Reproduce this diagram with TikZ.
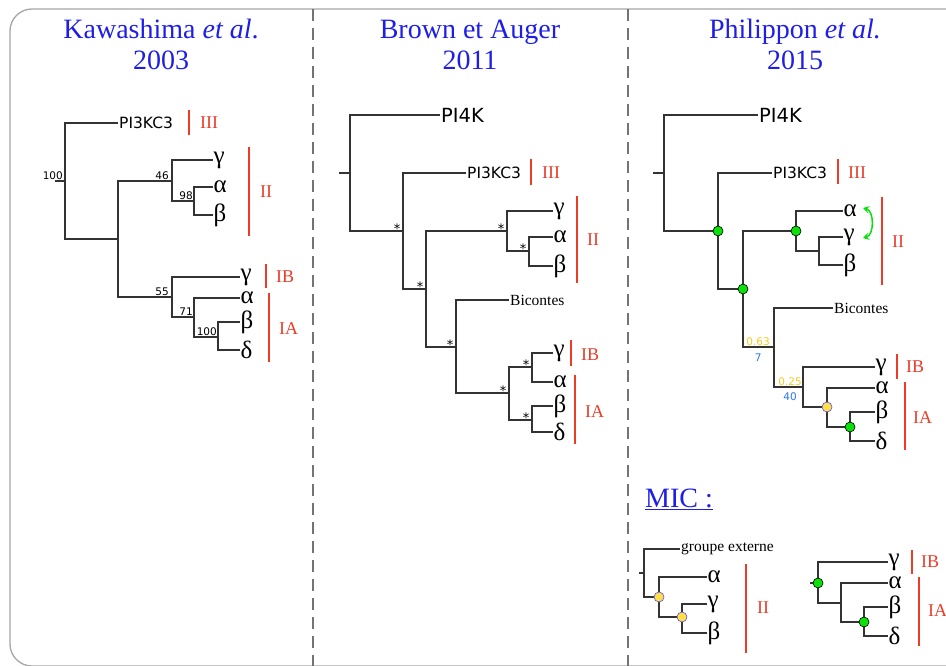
\documentclass[tikz,border=0pt]{standalone}
\usepackage{fontspec}
\setmainfont{Liberation Serif}
\setsansfont{DejaVu Sans}
\usetikzlibrary{arrows.meta}

\definecolor{titleblue}{RGB}{30,30,230}
\definecolor{cladered}{RGB}{235,60,40}
\definecolor{nodegreen}{RGB}{10,225,10}
\definecolor{nodeyellow}{RGB}{255,222,70}
\definecolor{ppyellow}{RGB}{240,205,30}
\definecolor{bsblue}{RGB}{40,120,240}
\newcommand\fs[1]{\fontsize{#1}{#1}\selectfont}

\begin{document}
\begin{tikzpicture}[x=1pt,y=-1pt,
  branch/.style={draw=black!80,line width=1.2pt},
  leaf/.style={anchor=west,inner sep=0.5pt,font=\fs{25}},
  gene/.style={anchor=west,inner sep=1pt,font=\sffamily\fs{15.5}},
  biggene/.style={anchor=west,inner sep=1pt,font=\sffamily\fs{19.5}},
  outgrp/.style={anchor=west,inner sep=1pt,font=\fs{15.5}},
  cladebar/.style={draw=cladered,line width=1.3pt},
  grp/.style={anchor=west,inner sep=0pt,text=cladered,font=\fs{18}},
  boot/.style={anchor=south east,inner sep=1pt,font=\sffamily\fs{10.5}},
  starmark/.style={anchor=south east,inner sep=0.5pt,font=\sffamily\fs{13}},
  reftitle/.style={anchor=base,inner sep=0pt,text=titleblue,font=\fs{28}},
  good/.style={circle,draw=black,line width=0.6pt,fill=nodegreen,inner sep=0pt,minimum size=10pt},
  weak/.style={circle,draw=blue!70,line width=0.6pt,fill=nodeyellow,inner sep=0pt,minimum size=10pt},
  pp/.style={anchor=south east,inner sep=1pt,text=ppyellow,font=\sffamily\fs{10.5}},
  bs/.style={anchor=north,inner sep=1pt,text=bsblue,font=\sffamily\fs{10.5}}]
  \useasboundingbox (0,0) rectangle (946,666);

  % frame and separators
  \draw[draw=black!35,line width=1.3pt,rounded corners=22pt] (10,9) rectangle (1000,666);
  \draw[draw=black!55,line width=1.3pt,dash pattern=on 12pt off 7pt] (313,9) -- (313,666);
  \draw[draw=black!55,line width=1.3pt,dash pattern=on 12pt off 7pt] (628,9) -- (628,666);

  % titles
  \node[reftitle] (t1a) at (161,39) {Kawashima \textit{et al}.};
  \node[reftitle] (t1b) at (161,70) {2003};
  \node[reftitle] (t2a) at (470,39) {Brown et Auger};
  \node[reftitle] (t2b) at (470,70) {2011};
  \node[reftitle] (t3a) at (795,39) {Philippon \textit{et al.}};
  \node[reftitle] (t3b) at (795,70) {2015};

  % ---- Kawashima et al. 2003
  \coordinate (k-r) at (55,181);
  \coordinate (k0) at (65,181);
  \coordinate (k1) at (118,239);
  \coordinate (k2) at (172,181);
  \coordinate (k3) at (194,201);
  \coordinate (k4) at (172,297);
  \coordinate (k5) at (194,317);
  \coordinate (k6) at (218,337);
  \node[gene] (k-pi3) at (118,123) {PI3KC3};
  \node[leaf] (k-IIg) at (213,160) {γ};
  \node[leaf] (k-IIa) at (213,187) {α};
  \node[leaf] (k-IIb) at (213,215) {β};
  \node[leaf] (k-IBg) at (240,277) {γ};
  \node[leaf] (k-IAa) at (240,298) {α};
  \node[leaf] (k-IAb) at (240,322) {β};
  \node[leaf] (k-IAd) at (240,350) {δ};
  \draw[branch] (k-r) -- (k0) (k0) |- (k-pi3.west) (k0) |- (k1)
    (k1) |- (k2) (k2) |- (k-IIg.west) (k2) |- (k3)
    (k3) |- (k-IIa.west) (k3) |- (k-IIb.west)
    (k1) |- (k4) (k4) |- (k-IBg.west) (k4) |- (k5)
    (k5) |- (k-IAa.west) (k5) |- (k6)
    (k6) |- (k-IAb.west) (k6) |- (k-IAd.west);
  \node[boot,xshift=-1pt] (k-b0) at (k0) {100};
  \node[boot,xshift=-2pt] (k-b2) at (k2) {46};
  \node[boot] (k-b3) at (k3) {98};
  \node[boot,xshift=-2pt] (k-b4) at (k4) {55};
  \node[boot] (k-b5) at (k5) {71};
  \node[boot] (k-b6) at (k6) {100};
  \draw[cladebar] (189,110) -- (189,135);
  \draw[cladebar] (249,147) -- (249,236);
  \draw[cladebar] (266,264) -- (266,288);
  \draw[cladebar] (269,293) -- (269,362);
  \node[grp] (k-III) at (200,123) {III};
  \node[grp] (k-II) at (260,192) {II};
  \node[grp] (k-IB) at (276,277) {IB};
  \node[grp] (k-IA) at (279,329) {IA};

  % ---- Brown et Auger 2011
  \coordinate (b-r) at (339,173);
  \coordinate (b0) at (350,173);
  \coordinate (b1) at (403,231);
  \coordinate (b2) at (426,289);
  \coordinate (b3) at (507,231);
  \coordinate (b4) at (529,251);
  \coordinate (b5) at (456,347);
  \coordinate (b6) at (509,393);
  \coordinate (b7) at (532,367);
  \coordinate (b8) at (532,420);
  \node[biggene] (b-pi4) at (440,115) {PI4K};
  \node[gene] (b-pi3) at (466,173) {PI3KC3};
  \node[leaf] (b-IIg) at (553,211) {γ};
  \node[leaf] (b-IIa) at (553,237) {α};
  \node[leaf] (b-IIb) at (553,266) {β};
  \node[outgrp] (b-bic) at (509,300) {Bicontes};
  \node[leaf] (b-IBg) at (553,353) {γ};
  \node[leaf] (b-IAa) at (553,382) {α};
  \node[leaf] (b-IAb) at (553,406) {β};
  \node[leaf] (b-IAd) at (553,432) {δ};
  \draw[branch] (b-r) -- (b0) (b0) |- (b-pi4.west) (b0) |- (b1)
    (b1) |- (b-pi3.west) (b1) |- (b2)
    (b2) |- (b3) (b3) |- (b-IIg.west) (b3) |- (b4)
    (b4) |- (b-IIa.west) (b4) |- (b-IIb.west)
    (b2) |- (b5) (b5) |- (b-bic.west) (b5) |- (b6)
    (b6) |- (b7) (b7) |- (b-IBg.west) (b7) |- (b-IAa.west)
    (b6) |- (b8) (b8) |- (b-IAb.west) (b8) |- (b-IAd.west);
  \foreach \n in {b1,b2,b3,b4,b5,b6,b7,b8}
    \node[starmark,xshift=-2pt,yshift=-3pt] (\n-star) at (\n) {*};
  \draw[cladebar] (531,159) -- (531,185);
  \draw[cladebar] (577,196) -- (577,283);
  \draw[cladebar] (571,340) -- (571,366);
  \draw[cladebar] (575,375) -- (575,444);
  \node[grp] (b-III) at (542,173) {III};
  \node[grp] (b-II) at (587,240) {II};
  \node[grp] (b-IB) at (581,355) {IB};
  \node[grp] (b-IA) at (585,412) {IA};

  % ---- Philippon et al. 2015
  \coordinate (p-r) at (653,173);
  \coordinate (p0) at (664,173);
  \coordinate (p1) at (718,231);
  \coordinate (p2) at (743,289);
  \coordinate (p3) at (796,231);
  \coordinate (p4) at (819,251);
  \coordinate (p5) at (774,347);
  \coordinate (p6) at (803,387);
  \coordinate (p7) at (827,407);
  \coordinate (p8) at (850,427);
  \node[biggene] (p-pi4) at (758,115) {PI4K};
  \node[gene] (p-pi3) at (772,173) {PI3KC3};
  \node[leaf] (p-IIa) at (843,211) {α};
  \node[leaf] (p-IIg) at (843,237) {γ};
  \node[leaf] (p-IIb) at (843,265) {β};
  \node[outgrp] (p-bic) at (833,308) {Bicontes};
  \node[leaf] (p-IBg) at (875,367) {γ};
  \node[leaf] (p-IAa) at (875,388) {α};
  \node[leaf] (p-IAb) at (875,412) {β};
  \node[leaf] (p-IAd) at (875,441) {δ};
  \draw[branch] (p-r) -- (p0) (p0) |- (p-pi4.west) (p0) |- (p1)
    (p1) |- (p-pi3.west) (p1) |- (p2)
    (p2) |- (p3) (p3) |- (p-IIa.west) (p3) |- (p4)
    (p4) |- (p-IIg.west) (p4) |- (p-IIb.west)
    (p2) |- (p5) (p5) |- (p-bic.west) (p5) |- (p6)
    (p6) |- (p-IBg.west) (p6) |- (p7)
    (p7) |- (p-IAa.west) (p7) |- (p8)
    (p8) |- (p-IAb.west) (p8) |- (p-IAd.west);
  \node[good] (p1-dot) at (p1) {};
  \node[good] (p2-dot) at (p2) {};
  \node[good] (p3-dot) at (p3) {};
  \node[weak] (p7-dot) at (p7) {};
  \node[good] (p8-dot) at (p8) {};
  \node[pp,xshift=-3pt] (p5-pp) at (p5) {0.63};
  \node[bs,yshift=-6pt] (p5-bs) at (p5-pp.south) {7};
  \node[pp] (p6-pp) at (p6) {0.25};
  \node[bs,yshift=-5pt] (p6-bs) at (p6-pp.south) {40};
  \coordinate (swap-a) at (863,208);
  \coordinate (swap-b) at (863,238);
  \draw[nodegreen,line width=1.5pt,{Stealth[length=6pt,width=7pt]}-{Stealth[length=6pt,width=7pt]}]
    (swap-a) to[bend left=75] (swap-b);
  \draw[cladebar] (838,159) -- (838,184);
  \draw[cladebar] (882,197) -- (882,285);
  \draw[cladebar] (897,354) -- (897,379);
  \draw[cladebar] (905,382) -- (905,450);
  \node[grp] (p-III) at (848,173) {III};
  \node[grp] (p-II) at (892,242) {II};
  \node[grp] (p-IB) at (906,367) {IB};
  \node[grp] (p-IA) at (913,418) {IA};

  % ---- MIC
  \node[anchor=base west,inner sep=0pt,text=titleblue,font=\fs{28}] (mic) at (645,507) {\underline{MIC :}};
  \coordinate (m-r) at (639,573);
  \coordinate (m0) at (644,573);
  \coordinate (m1) at (659,597);
  \coordinate (m2) at (682,617);
  \node[outgrp] (m-out) at (680,549) {groupe externe};
  \node[leaf] (m-a) at (707,577) {α};
  \node[leaf] (m-g) at (707,604) {γ};
  \node[leaf] (m-b) at (707,633) {β};
  \draw[branch] (m-r) -- (m0) (m0) |- (m-out.west) (m0) |- (m1)
    (m1) |- (m-a.west) (m1) |- (m2)
    (m2) |- (m-g.west) (m2) |- (m-b.west);
  \node[weak] (m1-dot) at (m1) {};
  \node[weak] (m2-dot) at (m2) {};
  \draw[cladebar] (746,564) -- (746,653);
  \node[grp] (m-II) at (757,608) {II};

  \coordinate (n-r) at (810,583);
  \coordinate (n0) at (818,583);
  \coordinate (n1) at (841,603);
  \coordinate (n2) at (864,622);
  \node[leaf] (n-g) at (888,562) {γ};
  \node[leaf] (n-a) at (888,583) {α};
  \node[leaf] (n-b) at (888,607) {β};
  \node[leaf] (n-d) at (888,636) {δ};
  \draw[branch] (n-r) -- (n0) (n0) |- (n-g.west) (n0) |- (n1)
    (n1) |- (n-a.west) (n1) |- (n2)
    (n2) |- (n-b.west) (n2) |- (n-d.west);
  \node[good] (n0-dot) at (n0) {};
  \node[good] (n2-dot) at (n2) {};
  \draw[cladebar] (912,550) -- (912,574);
  \draw[cladebar] (919,577) -- (919,646);
  \node[grp] (n-IB) at (921,562) {IB};
  \node[grp] (n-IA) at (928,611) {IA};
\end{tikzpicture}
\end{document}
